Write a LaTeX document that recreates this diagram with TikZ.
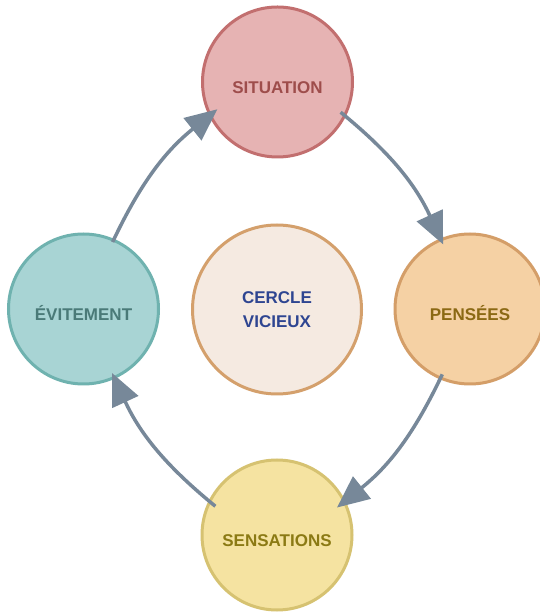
\documentclass[tikz,border=0pt]{standalone}
\usepackage{fontspec}
\setmainfont{Liberation Sans}
\usetikzlibrary{arrows.meta,calc}
\definecolor{sitfill}{HTML}{E6B3B3}
\definecolor{sitline}{HTML}{C26F6F}
\definecolor{sittext}{HTML}{9E4D4B}
\definecolor{penfill}{HTML}{F5D1A4}
\definecolor{penline}{HTML}{D49E68}
\definecolor{pentext}{HTML}{8B6914}
\definecolor{senfill}{HTML}{F5E3A1}
\definecolor{senline}{HTML}{D6C271}
\definecolor{sentext}{HTML}{8B7A14}
\definecolor{evifill}{HTML}{A8D4D4}
\definecolor{eviline}{HTML}{6FB2AF}
\definecolor{evitext}{HTML}{4A7A78}
\definecolor{cerfill}{HTML}{F5EAE1}
\definecolor{cerline}{HTML}{D4A06C}
\definecolor{certext}{HTML}{2E4591}
\definecolor{arrcol}{HTML}{778899}
\begin{document}
\begin{tikzpicture}[x=1pt,y=1pt,
  stage/.style={circle, line width=3pt, minimum size=150pt, inner sep=0pt,
    font=\fontsize{17}{24}\selectfont\bfseries, align=center},
  lowtext/.style={text height=23pt, text depth=0pt},
  arr/.style={draw=arrcol, line width=3.5pt, -{Triangle[length=32pt,width=28pt]}}]
\clip (0,0) rectangle (540,613);
\fill[white] (0,0) rectangle (540,613);
\node[stage, lowtext, fill=sitfill, draw=sitline, text=sittext] (sit) at (277.5,531) {SITUATION};
\node[stage, lowtext, fill=penfill, draw=penline, text=pentext] (pen) at (470,304) {PENSÉES};
\node[stage, lowtext, fill=senfill, draw=senline, text=sentext] (sen) at (277,78) {SENSATIONS};
\node[stage, lowtext, fill=evifill, draw=eviline, text=evitext] (evi) at (83.5,304) {ÉVITEMENT};
\node[stage, minimum size=169pt, fill=cerfill, draw=cerline, text=certext] (cer) at (277,303.5) {CERCLE\\VICIEUX};
\draw[arr] ($(sit)+(-25.6:70)$) to[bend left=13] ($(pen)+(112.6:70)$);
\draw[arr] ($(pen)+(-113:71)$) to[bend left=13] ($(sen)+(24.6:66)$);
\draw[arr] ($(sen)+(155:68)$) to[bend left=13] ($(evi)+(-66:70)$);
\draw[arr] ($(evi)+(66.5:73)$) to[bend left=13] ($(sit)+(204.4:66)$);
\end{tikzpicture}
\end{document}
